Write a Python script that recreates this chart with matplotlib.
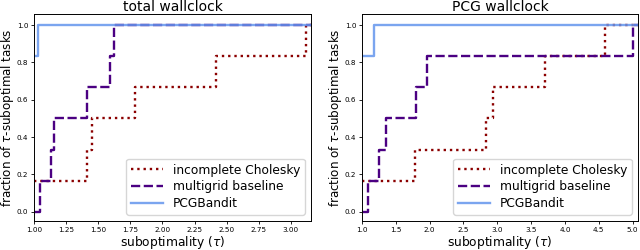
import matplotlib
matplotlib.use("Agg")
import matplotlib.pyplot as plt

# total wallclock
tot_ic_x = [1.00, 1.41, 1.45, 1.79, 2.42, 3.12]
tot_ic_y = [0.167, 0.333, 0.5, 0.667, 0.833, 1.0]
tot_mg_x = [1.00, 1.05, 1.13, 1.155, 1.41, 1.59, 1.625]
tot_mg_y = [0.0, 0.167, 0.333, 0.5, 0.667, 0.833, 1.0]
tot_pcg_x = [1.00, 1.035]
tot_pcg_y = [0.833, 1.0]
tot_xmax = 3.157

# PCG wallclock
pcg_ic_x = [1.00, 1.78, 2.84, 2.93, 3.71, 4.59]
pcg_ic_y = [0.167, 0.333, 0.5, 0.667, 0.833, 1.0]
pcg_mg_x = [1.00, 1.09, 1.25, 1.35, 1.80, 1.96, 5.01]
pcg_mg_y = [0.0, 0.167, 0.333, 0.5, 0.667, 0.833, 1.0]
pcg_pcg_x = [1.00, 1.17]
pcg_pcg_y = [0.833, 1.0]
pcg_xmax = 5.08

titles = ["total wallclock", "PCG wallclock"]
labels = ["incomplete Cholesky", "multigrid baseline", "PCGBandit"]
tot_ticks = [1.00, 1.25, 1.50, 1.75, 2.00, 2.25, 2.50, 2.75, 3.00]
pcg_ticks = [1.0, 1.5, 2.0, 2.5, 3.0, 3.5, 4.0, 4.5, 5.0]

fig = plt.figure(figsize=(6.4, 2.5), dpi=100)
ax1 = fig.add_axes([34/640, 29/250, 277/640, 207/250])
ax2 = fig.add_axes([362/640, 29/250, 276/640, 207/250])

def draw(ax, data, xmax, ticks, fmt, title):
    styles = [dict(color="darkred", linestyle=":", linewidth=1.7),
              dict(color="indigo", linestyle=(0, (3.9, 1.5)), linewidth=1.7),
              dict(color="cornflowerblue", linestyle="-", linewidth=1.7, alpha=0.85)]
    for (xs, ys), lab, st in zip(data, labels, styles):
        ax.step(list(xs) + [xmax], list(ys) + [ys[-1]], where="post", label=lab, **st)
    ax.set_xlim(1.0, xmax)
    ax.set_ylim(-0.05, 1.06)
    ax.set_xticks(ticks)
    ax.set_xticklabels([fmt.format(t) for t in ticks])
    ax.set_yticks([0.0, 0.2, 0.4, 0.6, 0.8, 1.0])
    ax.set_yticklabels(["0.0", "0.2", "0.4", "0.6", "0.8", "1.0"])
    ax.tick_params(labelsize=5.2, length=2.5, width=0.6, pad=1.5)
    for s in ax.spines.values():
        s.set_linewidth(0.7)
    ax.set_title(title, fontsize=10, pad=2)
    ax.set_xlabel(r"suboptimality ($\tau$)", fontsize=8.8, labelpad=1)
    ax.set_ylabel(r"fraction of $\tau$-suboptimal tasks", fontsize=8.6, labelpad=0.5)
    ax.legend(loc="lower right", fontsize=8.8, handlelength=2.6, borderpad=0.4,
              labelspacing=0.3, framealpha=0.8)

draw(ax1, [(tot_ic_x, tot_ic_y), (tot_mg_x, tot_mg_y), (tot_pcg_x, tot_pcg_y)],
     tot_xmax, tot_ticks, "{:.2f}", titles[0])
draw(ax2, [(pcg_ic_x, pcg_ic_y), (pcg_mg_x, pcg_mg_y), (pcg_pcg_x, pcg_pcg_y)],
     pcg_xmax, pcg_ticks, "{:.1f}", titles[1])

fig.savefig("out.png", dpi=100)
